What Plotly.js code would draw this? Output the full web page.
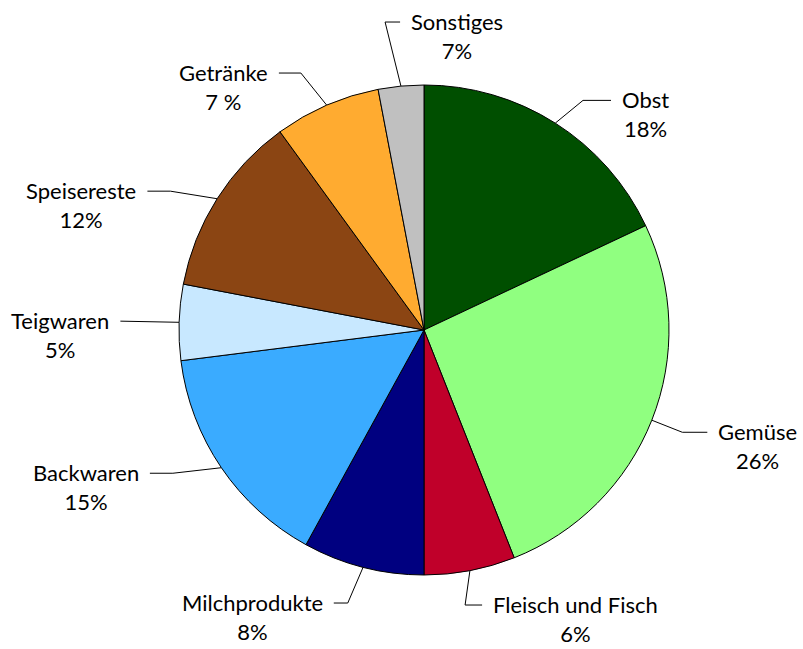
<!DOCTYPE html>
<html>
<head>
<meta charset="utf-8">
<script src="https://cdn.plot.ly/plotly-3.0.1.min.js"></script>
<style>html,body{margin:0;padding:0;background:#fff;}#chart{width:803px;height:649px;}</style>
</head>
<body>
<div id="chart"></div>
<script>
// ---- data ----
const categories = ['Obst', 'Gemüse', 'Fleisch und Fisch', 'Milchprodukte', 'Backwaren', 'Teigwaren', 'Speisereste', 'Getränke', 'Sonstiges'];
const values = [18, 26, 6, 8, 15, 5, 12, 7, 3];
const percentLabels = ['18%', '26%', '6%', '8%', '15%', '5%', '12%', '7 %', '7%'];
const colors = ['#004f00', '#90ff80', '#c0002a', '#000080', '#3aabff', '#c8e8ff', '#8b4513', '#ffab30', '#c0c0c0'];

// ---- layout helpers (label placement) ----
const W = 803, H = 649;
const cx = 424, cy = 330, R = 245;           // pie centre / radius in px
const side = [1, 1, 1, -1, -1, -1, -1, -1, 1];
const elbowR = [1.14, 1.134, 1.135, 1.157, 1.18, 1.15, 1.18, 1.163, 1.267];
const elbowDA = [2.3, 0, 2.3, 1.2, 4.5, 0, -3.7, -2.2, -1.8];
const hLen = [28, 25, 17, 14, 23, 22, 23, 22, 15];
const gap = 9;

const total = values.reduce((a, b) => a + b, 0);
const toRad = d => d * Math.PI / 180;
const lx = [], ly = [];
const annotations = [];
let cum = 0;
values.forEach((v, i) => {
  const mid = (cum + v / 2) / total * 360;
  cum += v;
  const a0 = toRad(mid), a1 = toRad(mid + elbowDA[i]);
  const sx = Math.sin(a0), sy = Math.cos(a0);
  const ex = elbowR[i] * Math.sin(a1), ey = elbowR[i] * Math.cos(a1);
  const hx = ex + side[i] * hLen[i] / R;
  lx.push(sx, ex, hx, null);
  ly.push(sy, ey, ey, null);
  annotations.push({
    x: hx + side[i] * gap / R, y: ey, xref: 'x', yref: 'y',
    xanchor: side[i] > 0 ? 'left' : 'right', yanchor: 'middle', yshift: -14,
    align: 'center', showarrow: false,
    text: categories[i] + '<br>' + percentLabels[i],
    font: {family: 'Lato, "Open Sans", sans-serif', size: 22, color: '#000'}
  });
});

const pie = {
  type: 'pie', values: values, labels: categories,
  marker: {colors: colors, line: {color: '#000', width: 1}},
  sort: false, direction: 'clockwise', rotation: 0,
  textinfo: 'none', hoverinfo: 'none', showlegend: false,
  domain: {x: [(cx - R) / W, (cx + R) / W], y: [(H - cy - R) / H, (H - cy + R) / H]}
};
const leaders = {
  type: 'scatter', mode: 'lines', x: lx, y: ly,
  line: {color: '#000', width: 1}, hoverinfo: 'skip', showlegend: false
};

const layout = {
  width: W, height: H,
  margin: {l: 0, r: 0, t: 0, b: 0},
  paper_bgcolor: '#fff', plot_bgcolor: 'rgba(0,0,0,0)',
  xaxis: {range: [-cx / R, (W - cx) / R], visible: false, fixedrange: true},
  yaxis: {range: [(cy - H) / R, cy / R], visible: false, fixedrange: true},
  annotations: annotations,
  showlegend: false, hovermode: false
};
Plotly.newPlot('chart', [leaders, pie], layout, {displayModeBar: false, staticPlot: true});
</script>
</body>
</html>
